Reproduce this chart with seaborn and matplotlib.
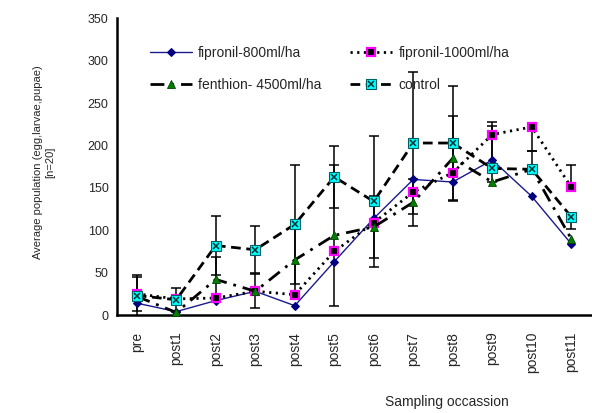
import numpy as np
import pandas as pd
import matplotlib
matplotlib.use("Agg")
import matplotlib.pyplot as plt
import seaborn as sns
from matplotlib.legend_handler import HandlerTuple

sns.set_style("white")
plt.rcParams["font.family"] = ["Liberation Sans", "DejaVu Sans"]

occasions = ["pre", "post1", "post2", "post3", "post4", "post5", "post6",
             "post7", "post8", "post9", "post10", "post11"]

fipronil_800 = [14, 4, 17, 28, 11, 63, 114, 160, 157, 183, 140, 84]
fipronil_1000 = [25, 19, 20, 28, 24, 75, 109, 145, 168, 213, 222, 151]
fenthion_4500 = [22, 3, 42, 28, 65, 94, 104, 133, 185, 157, 172, 90]
control = [23, 18, 82, 77, 107, 163, 134, 203, 203, 173, 172, 116]

# 误差棒（上下分开读）
control_err_lo = [24, 14, 35, 28, 70, 37, 77, 84, 67, 0, 0, 14]
control_err_hi = [24, 14, 35, 28, 70, 37, 77, 84, 67, 55, 22, 0]
fenthion_err_lo = [0, 0, 27, 20, 42, 83, 37, 28, 50, 0, 0, 0]
fenthion_err_hi = [0, 0, 27, 20, 42, 83, 37, 28, 50, 66, 0, 0]
fip1000_err_lo = [20, 0, 0, 0, 0, 0, 0, 0, 0, 0, 28, 0]
fip1000_err_hi = [20, 0, 0, 0, 0, 0, 0, 0, 0, 0, 0, 26]

pos = np.arange(len(occasions))
df = pd.DataFrame({"pos": pos, "f800": fipronil_800, "f1000": fipronil_1000,
                   "fen": fenthion_4500, "ctl": control})

fig = plt.figure(figsize=(5.92, 4.13), dpi=100)
ax = fig.add_axes([117 / 592, 1 - 315 / 413, (591 - 117) / 592, (315 - 18.5) / 413])

# 误差棒先画，放在折线下面
for vals, lo, hi in [(control, control_err_lo, control_err_hi),
                     (fenthion_4500, fenthion_err_lo, fenthion_err_hi),
                     (fipronil_1000, fip1000_err_lo, fip1000_err_hi)]:
    lo = np.array(lo)
    hi = np.array(hi)
    idx = np.where((lo > 0) | (hi > 0))[0]
    ax.errorbar(pos[idx], np.array(vals)[idx], yerr=[lo[idx], hi[idx]], fmt="none",
                ecolor="black", elinewidth=1.1, capsize=3.5, capthick=1.1, zorder=2)

sns.lineplot(data=df, x="pos", y="f800", ax=ax, color="#1a1a8c", lw=1.0,
             marker="D", markersize=4, markerfacecolor="#000080", markeredgecolor="#000080",
             label="fipronil-800ml/ha", clip_on=False, zorder=4)
sns.lineplot(data=df, x="pos", y="f1000", ax=ax, color="black", lw=2.0,
             linestyle=(0, (0.8, 1.6)), marker="s", markersize=6,
             markerfacecolor="black", markeredgecolor="#ff00ff", markeredgewidth=1.6,
             label="fipronil-1000ml/ha", clip_on=False, zorder=4)
sns.lineplot(data=df, x="pos", y="fen", ax=ax, color="black", lw=2.0,
             linestyle=(0, (5, 2.5, 1, 2.5)), marker="^", markersize=6,
             markerfacecolor="#008000", markeredgecolor="#004000", markeredgewidth=0.6,
             label="fenthion- 4500ml/ha", clip_on=False, zorder=4)
sns.lineplot(data=df, x="pos", y="ctl", ax=ax, color="black", lw=2.0,
             linestyle=(0, (3.5, 2)), marker="s", markersize=6.5,
             markerfacecolor="#00ffff", markeredgecolor="#006060", markeredgewidth=0.8,
             label="control", clip_on=False, zorder=5)
xmark, = ax.plot(pos, control, linestyle="none", marker="x", markersize=5,
                 markeredgecolor="#003030", markeredgewidth=1.1, clip_on=False, zorder=6)

ax.set_xlim(-0.5, len(occasions) - 0.5)
ax.set_ylim(0, 350)
ax.set_yticks(np.arange(0, 351, 50))
ax.set_xticks(np.arange(-0.5, len(occasions), 1.0))
ax.set_xticklabels([])
ax.set_xticks(pos, minor=True)
ax.set_xticklabels(occasions, minor=True, rotation=90, fontsize=10)
ax.tick_params(axis="x", which="minor", length=0, pad=12)
ax.tick_params(axis="x", which="major", direction="out", length=4, width=1.5, color="black")
ax.tick_params(axis="y", direction="out", length=4, width=1.2, color="black",
               labelsize=9, pad=2)
ax.set_xlabel("")
ax.set_ylabel("")
sns.despine(ax=ax)
for side in ["left", "bottom"]:
    ax.spines[side].set_color("black")
    ax.spines[side].set_linewidth(1.8)
ax.grid(False)

handles, labels = ax.get_legend_handles_labels()
h = dict(zip(labels, handles))
order = ["fipronil-800ml/ha", "fenthion- 4500ml/ha", "fipronil-1000ml/ha", "control"]
hs = [h[k] for k in order]
hs[3] = (h["control"], xmark)
ax.legend(hs, order, ncol=2, frameon=False, fontsize=10, loc="upper left",
          bbox_to_anchor=(150 / 592, 1 - 46 / 413), bbox_transform=fig.transFigure,
          borderpad=0, borderaxespad=0, handlelength=3.0, handletextpad=0.45,
          labelspacing=1.3, columnspacing=2.1,
          handler_map={tuple: HandlerTuple(ndivide=1)})

fig.text(44 / 592, 1 - 162 / 413, "Average population (egg,larvae,pupae)\n[n=20]",
         rotation=90, ha="center", va="center", multialignment="center", fontsize=8)
fig.text(447 / 592, 1 - 402 / 413, "Sampling occassion", ha="center", va="center", fontsize=10)

fig.savefig("out.png", dpi=100, facecolor="white")
